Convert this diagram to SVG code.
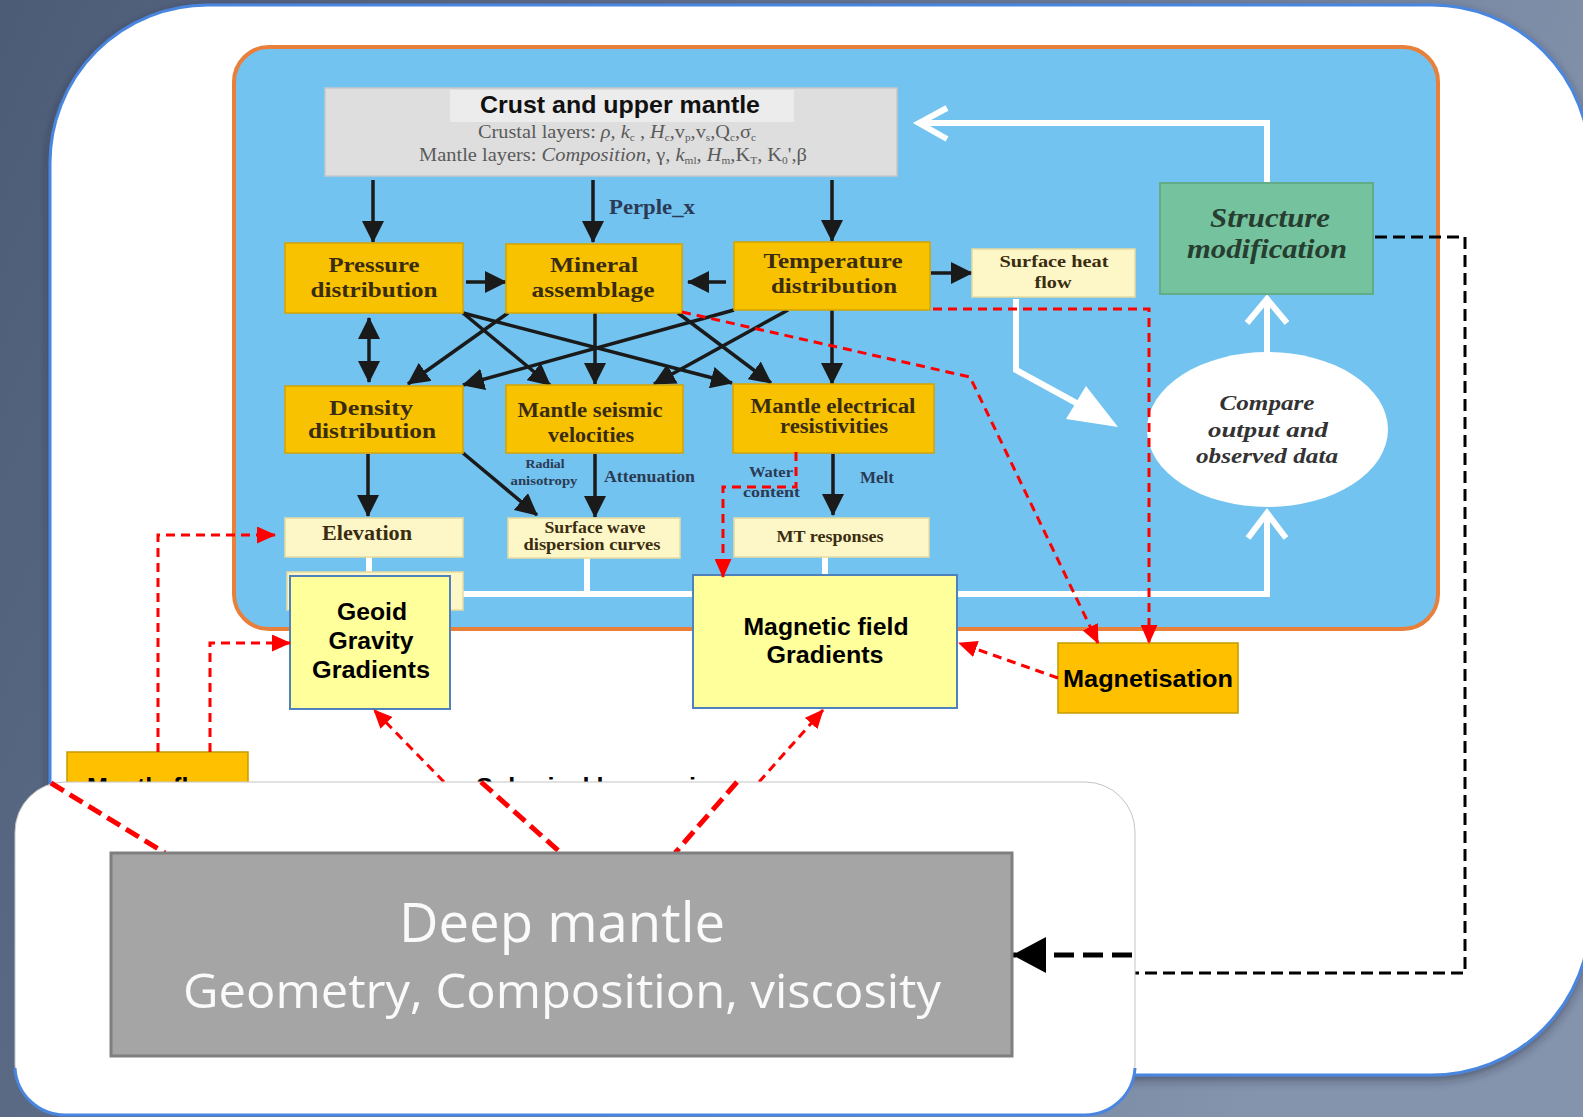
<svg xmlns="http://www.w3.org/2000/svg" width="1583" height="1117" viewBox="0 0 1583 1117">
<defs>
<linearGradient id="bg" x1="0" y1="0" x2="1" y2="0.3">
<stop offset="0" stop-color="#4c5b76"/>
<stop offset="0.6" stop-color="#6a7a95"/>
<stop offset="1" stop-color="#8494ad"/>
</linearGradient>
<filter id="sh" x="-5%" y="-5%" width="110%" height="110%">
<feDropShadow dx="0" dy="4" stdDeviation="5" flood-color="#223" flood-opacity="0.45"/>
</filter>
<marker id="ab" markerUnits="userSpaceOnUse" markerWidth="22" markerHeight="22" refX="21" refY="11" orient="auto-start-reverse"><path d="M0,0 L22,11 L0,22 Z" fill="#1a1a1a"/></marker>
<marker id="ar" markerUnits="userSpaceOnUse" markerWidth="19" markerHeight="17" refX="18" refY="8.5" orient="auto"><path d="M0,0 L19,8.5 L0,17 Z" fill="#ff0000"/></marker>
<marker id="abig" markerUnits="userSpaceOnUse" markerWidth="34" markerHeight="36" refX="33" refY="18" orient="auto"><path d="M0,0 L34,18 L0,36 Z" fill="#000"/></marker>
</defs>
<style>
.ob{fill:#f8c200;stroke:#d3a400;stroke-width:1.5}
.cb{fill:#fdf6c6;stroke:#e6dca0;stroke-width:1.5}
.yb{fill:#ffff9c;stroke:#4f81bd;stroke-width:2}
.mg{fill:#ffc000;stroke:#c49a00;stroke-width:1.5}
.ts{font-family:"Liberation Serif","Times New Roman",serif;font-weight:bold;fill:#3a2c10;text-anchor:middle}
.lb{font-family:"Liberation Serif","Times New Roman",serif;font-weight:bold;fill:#2b3a55}
.as{font-family:"Liberation Sans",Arial,sans-serif;font-weight:bold;fill:#000;text-anchor:middle}
.al{font-family:"Liberation Sans",Arial,sans-serif;font-weight:bold;fill:#000;text-anchor:start}
.bi{font-family:"Liberation Serif","Times New Roman",serif;font-weight:bold;font-style:italic;text-anchor:middle}
.crl{font-family:"Liberation Serif","Times New Roman",serif;font-size:18px;fill:#5a5a5a;text-anchor:middle}
.blk{fill:none;stroke:#1a1a1a;stroke-width:3.5;marker-end:url(#ab)}
.wht{fill:none;stroke:#fff;stroke-width:6}
.red{fill:none;stroke:#ff0000;stroke-width:3;stroke-dasharray:9 6}
.redt{fill:none;stroke:#ff0000;stroke-width:5;stroke-dasharray:15 7}
.dm{font-family:"Open Sans","DejaVu Sans",sans-serif;fill:#fafafa;text-anchor:middle}
</style>

<rect x="0" y="0" width="1583" height="1117" fill="url(#bg)"/>
<g id="frame">
<rect x="50" y="5" width="1540" height="1070" rx="158" fill="#fff" stroke="#4a86e0" stroke-width="3" filter="url(#sh)"/>
</g>
<g id="upper-panel">
<rect x="234" y="47" width="1204" height="582" rx="35" fill="#72c3ef" stroke="#e8803c" stroke-width="4"/>
</g>

<g id="crust">
<rect x="325" y="88" width="572" height="88" fill="#dedede" stroke="#c8c8c8" stroke-width="1.5"/>
<rect x="450" y="90" width="344" height="32" fill="#ececec"/>
<text x="620" y="113" font-family="Liberation Sans, Arial, sans-serif" font-weight="bold" font-size="24" fill="#111" text-anchor="middle" textLength="280" lengthAdjust="spacingAndGlyphs">Crust and upper mantle</text>
<text class="crl" x="617" y="138" textLength="278" lengthAdjust="spacingAndGlyphs">Crustal layers: <tspan font-style="italic">ρ, k</tspan><tspan font-size="10" dy="3">c</tspan><tspan dy="-3"> , </tspan><tspan font-style="italic">H</tspan><tspan font-size="10" dy="3">c</tspan><tspan dy="-3">,v</tspan><tspan font-size="10" dy="3">p</tspan><tspan dy="-3">,v</tspan><tspan font-size="10" dy="3">s</tspan><tspan dy="-3">,Q</tspan><tspan font-size="10" dy="3">c</tspan><tspan dy="-3">,σ</tspan><tspan font-size="10" dy="3">c</tspan></text>
<text class="crl" x="613" y="161" textLength="388" lengthAdjust="spacingAndGlyphs">Mantle layers: <tspan font-style="italic">Composition</tspan>, γ, <tspan font-style="italic">k</tspan><tspan font-size="10" dy="3">ml</tspan><tspan dy="-3">, </tspan><tspan font-style="italic">H</tspan><tspan font-size="10" dy="3">m</tspan><tspan dy="-3">,K</tspan><tspan font-size="10" dy="3">T</tspan><tspan dy="-3">, K</tspan><tspan font-size="10" dy="3">0</tspan><tspan dy="-3">',β</tspan></text>
</g>

<g id="connectors">
<path class="wht" d="M369,557 V574"/>
<path class="wht" d="M587,558 V594"/>
<path class="wht" d="M825,557 V576"/>
<path class="wht" d="M463,594 H1267 V515"/>
<path class="wht" d="M1248,538 L1267,513 L1286,538"/>
<path class="wht" d="M1267,352 V302"/>
<path class="wht" d="M1247,323 L1267,299 L1287,323"/>
<path class="wht" d="M1267,183 V123 H920"/>
<path class="wht" d="M947,108 L919,123 L947,139"/>
<path class="wht" d="M1016,299 V370 L1080,405"/>
<path d="M1118,427 L1066,419 L1086,386 Z" fill="#fff"/>
<path class="blk" d="M373,180 V242"/>
<path class="blk" d="M593,180 V242"/>
<path class="blk" d="M832,180 V241"/>
<path class="blk" d="M466,282 H506"/>
<path class="blk" d="M726,282 H688"/>
<path class="blk" d="M931,273 H972"/>
<path class="blk" d="M369,318 V382" marker-start="url(#ab)"/>
<path class="blk" d="M463,313 L550,385"/>
<path class="blk" d="M463,313 L732,383"/>
<path class="blk" d="M508,313 L408,384"/>
<path class="blk" d="M595,313 V384"/>
<path class="blk" d="M678,313 L771,383"/>
<path class="blk" d="M734,310 L463,385"/>
<path class="blk" d="M788,310 L654,384"/>
<path class="blk" d="M832,310 V384"/>
<path class="blk" d="M368,454 V516"/>
<path class="blk" d="M463,453 L537,515"/>
<path class="blk" d="M595,454 V517"/>
<path class="blk" d="M833,454 V515"/>
<path d="M1375,237 H1465 V973 H1135" fill="none" stroke="#000" stroke-width="3" stroke-dasharray="12 6"/>
</g>

<g id="pressure"><rect class="ob" x="285" y="243" width="178" height="70"/>
<text class="ts" font-size="22" x="374" y="272" textLength="91" lengthAdjust="spacingAndGlyphs">Pressure</text>
<text class="ts" font-size="22" x="374" y="297" textLength="127" lengthAdjust="spacingAndGlyphs">distribution</text></g>
<g id="mineral"><rect class="ob" x="506" y="244" width="176" height="69"/>
<text class="ts" font-size="22" x="594" y="272" textLength="88" lengthAdjust="spacingAndGlyphs">Mineral</text>
<text class="ts" font-size="22" x="593" y="297" textLength="123" lengthAdjust="spacingAndGlyphs">assemblage</text></g>
<g id="temperature"><rect class="ob" x="734" y="242" width="196" height="68"/>
<text class="ts" font-size="22" x="833" y="268" textLength="139" lengthAdjust="spacingAndGlyphs">Temperature</text>
<text class="ts" font-size="22" x="834" y="293" textLength="126" lengthAdjust="spacingAndGlyphs">distribution</text></g>
<g id="density"><rect class="ob" x="285" y="386" width="178" height="67"/>
<text class="ts" font-size="22" x="371" y="415" textLength="84" lengthAdjust="spacingAndGlyphs">Density</text>
<text class="ts" font-size="22" x="372" y="438" textLength="128" lengthAdjust="spacingAndGlyphs">distribution</text></g>
<g id="seismic"><rect class="ob" x="506" y="385" width="177" height="68"/>
<text class="ts" font-size="20" x="590" y="417" textLength="145" lengthAdjust="spacingAndGlyphs">Mantle seismic</text>
<text class="ts" font-size="20" x="591" y="442" textLength="86" lengthAdjust="spacingAndGlyphs">velocities</text></g>
<g id="electrical"><rect class="ob" x="733" y="384" width="201" height="69"/>
<text class="ts" font-size="20" x="833" y="413" textLength="165" lengthAdjust="spacingAndGlyphs">Mantle electrical</text>
<text class="ts" font-size="20" x="834" y="433" textLength="108" lengthAdjust="spacingAndGlyphs">resistivities</text></g>

<g id="heatflow"><rect class="cb" x="972" y="249" width="163" height="48"/>
<text class="ts" font-size="17" x="1054" y="267" textLength="109" lengthAdjust="spacingAndGlyphs">Surface heat</text>
<text class="ts" font-size="17" x="1053" y="288" textLength="37" lengthAdjust="spacingAndGlyphs">flow</text></g>
<g id="elevation"><rect class="cb" x="285" y="518" width="178" height="39"/>
<text class="ts" font-size="20" x="367" y="540" textLength="90" lengthAdjust="spacingAndGlyphs">Elevation</text></g>
<g id="surfacewave"><rect class="cb" x="508" y="518" width="172" height="40"/>
<text class="ts" font-size="16" x="595" y="533" textLength="101" lengthAdjust="spacingAndGlyphs">Surface wave</text>
<text class="ts" font-size="16" x="592" y="550" textLength="137" lengthAdjust="spacingAndGlyphs">dispersion curves</text></g>
<g id="mt"><rect class="cb" x="734" y="518" width="195" height="39"/>
<text class="ts" font-size="17" x="830" y="542" textLength="107" lengthAdjust="spacingAndGlyphs">MT responses</text></g>
<g id="hidden-box"><rect class="cb" x="287" y="572" width="176" height="38"/></g>

<g id="labels">
<text class="lb" font-size="20" x="609" y="214" textLength="86" lengthAdjust="spacingAndGlyphs" fill="#2a2a3a">Perple_x</text>
<text class="lb" font-size="12" x="545" y="468" text-anchor="middle" textLength="39" lengthAdjust="spacingAndGlyphs">Radial</text>
<text class="lb" font-size="12" x="544" y="485" text-anchor="middle" textLength="67" lengthAdjust="spacingAndGlyphs">anisotropy</text>
<text class="lb" font-size="16" x="604" y="482" textLength="91" lengthAdjust="spacingAndGlyphs">Attenuation</text>
<text class="lb" font-size="15" x="749" y="477" textLength="44" lengthAdjust="spacingAndGlyphs">Water</text>
<text class="lb" font-size="15" x="743" y="497" textLength="57" lengthAdjust="spacingAndGlyphs">content</text>
<text class="lb" font-size="16" x="860" y="483" textLength="34" lengthAdjust="spacingAndGlyphs">Melt</text>
</g>

<g id="structure"><rect x="1160" y="183" width="213" height="111" fill="#74c29e" stroke="#60ad88" stroke-width="2"/>
<text class="bi" font-size="28" fill="#263d30" x="1270" y="227" textLength="120" lengthAdjust="spacingAndGlyphs">Structure</text>
<text class="bi" font-size="28" fill="#263d30" x="1267" y="258" textLength="160" lengthAdjust="spacingAndGlyphs">modification</text></g>
<g id="compare"><ellipse cx="1267.5" cy="429.5" rx="120.5" ry="77.5" fill="#fff"/>
<text class="bi" font-size="22" fill="#333" x="1267" y="410" textLength="95" lengthAdjust="spacingAndGlyphs">Compare</text>
<text class="bi" font-size="22" fill="#333" x="1268" y="437" textLength="120" lengthAdjust="spacingAndGlyphs">output  and</text>
<text class="bi" font-size="22" fill="#333" x="1267" y="463" textLength="142" lengthAdjust="spacingAndGlyphs">observed data</text></g>

<g id="geoid"><rect class="yb" x="290" y="576" width="160" height="133"/>
<text class="as" font-size="23" x="372" y="620" textLength="70" lengthAdjust="spacingAndGlyphs">Geoid</text>
<text class="as" font-size="23" x="371" y="649" textLength="85" lengthAdjust="spacingAndGlyphs">Gravity</text>
<text class="as" font-size="23" x="371" y="678" textLength="118" lengthAdjust="spacingAndGlyphs">Gradients</text></g>
<g id="magnetic"><rect class="yb" x="693" y="575" width="264" height="133"/>
<text class="as" font-size="23" x="826" y="635" textLength="165" lengthAdjust="spacingAndGlyphs">Magnetic field</text>
<text class="as" font-size="23" x="825" y="663" textLength="117" lengthAdjust="spacingAndGlyphs">Gradients</text></g>
<g id="magnetisation"><rect class="mg" x="1058" y="643" width="180" height="70"/>
<text class="as" font-size="24" x="1148" y="687" textLength="170" lengthAdjust="spacingAndGlyphs">Magnetisation</text></g>
<g id="mantleflow"><rect class="mg" x="67" y="752" width="181" height="60"/>
<text class="al" font-size="25" x="87" y="796">Mantle flow</text></g>
<text class="al" font-size="23" x="476" y="795" textLength="248" lengthAdjust="spacingAndGlyphs">Spherical harmonics</text>

<g id="red-connectors">
<path class="red" d="M796,452 V487 H723 V577" marker-end="url(#ar)"/>
<path class="red" d="M933,309 H1149 V643" marker-end="url(#ar)"/>
<path class="red" d="M682,312 L970,377 L1098,643" marker-end="url(#ar)"/>
<path class="red" d="M1058,678 L959,643" marker-end="url(#ar)"/>
<path class="red" d="M158,752 V535 H275" marker-end="url(#ar)"/>
<path class="red" d="M210,752 V643 H290" marker-end="url(#ar)"/>
<path class="red" d="M444,782 L374,710" marker-end="url(#ar)"/>
<path class="red" d="M759,782 L823,710" marker-end="url(#ar)"/>
</g>

<g id="lower-panel">
<rect x="15" y="782" width="1120" height="333" rx="50" fill="#fff" stroke="#c4c4c4" stroke-width="1"/>
<path d="M15,1068 A50,50 0 0 0 65,1115 H1085 A50,50 0 0 0 1135,1068" fill="none" stroke="#4a86e0" stroke-width="3"/>
</g>
<g id="lower-connectors">
<path class="redt" d="M51,783 L165,853"/>
<path class="redt" d="M481,782 L561,853"/>
<path class="redt" d="M737,782 L675,853"/>
<path d="M1132,955 H1013" fill="none" stroke="#000" stroke-width="5" stroke-dasharray="20 9" marker-end="url(#abig)"/>
</g>
<g id="deep-mantle">
<rect x="111" y="853" width="901" height="203" fill="#a5a5a5" stroke="#7f7f7f" stroke-width="3"/>
<text class="dm" font-size="55" x="562" y="942" textLength="326" lengthAdjust="spacingAndGlyphs">Deep mantle</text>
<text class="dm" font-size="48" x="562" y="1008" textLength="758" lengthAdjust="spacingAndGlyphs">Geometry, Composition, viscosity</text>
</g>
</svg>
